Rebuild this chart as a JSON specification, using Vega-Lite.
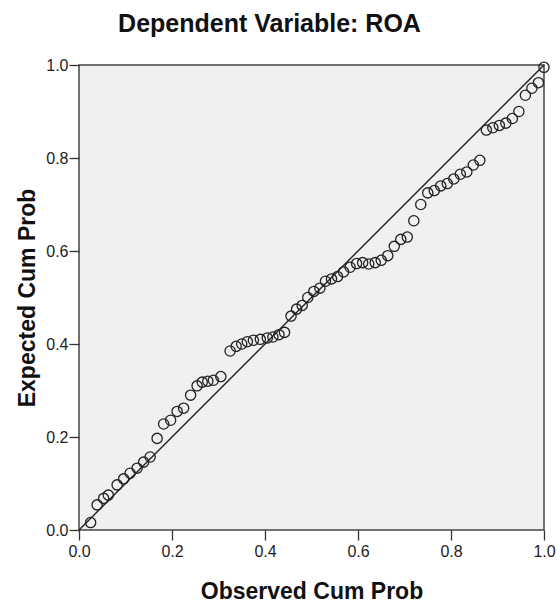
{
  "$schema": "https://vega.github.io/schema/vega-lite/v6.json",
  "width": 465,
  "height": 465,
  "autosize": {"type": "none"},
  "padding": {"left": 79, "top": 65, "right": 13, "bottom": 73},
  "background": "white",
  "title": {
    "text": "Dependent Variable: ROA",
    "font": "Liberation Sans",
    "fontSize": 25,
    "fontWeight": "bold",
    "color": "#111111",
    "anchor": "middle",
    "dx": -42,
    "baseline": "alphabetic",
    "offset": 0
  },
  "config": {
    "view": {"fill": "#f0f0f0", "stroke": "#444444", "strokeWidth": 1.5},
    "axis": {
      "labelFont": "Liberation Sans",
      "labelFontSize": 16,
      "labelColor": "#222222",
      "titleFont": "Liberation Sans",
      "titleFontSize": 23,
      "titleFontWeight": "bold",
      "titleColor": "#111111",
      "tickColor": "#333333",
      "tickSize": 10,
      "tickWidth": 1.3,
      "domain": false,
      "grid": false,
      "labelFlush": false,
      "labelOverlap": false
    }
  },
  "layer": [
    {
      "data": {"values": [{"x0": 0, "y0": 0, "x1": 1, "y1": 1}]},
      "mark": {"type": "rule", "color": "#222222", "strokeWidth": 1.4},
      "encoding": {
        "x": {"field": "x0", "type": "quantitative"},
        "y": {"field": "y0", "type": "quantitative"},
        "x2": {"field": "x1"},
        "y2": {"field": "y1"}
      }
    },
    {
      "data": {
        "values": [
          {"obs": 0.025, "exp": 0.016},
          {"obs": 0.039, "exp": 0.054},
          {"obs": 0.053, "exp": 0.068},
          {"obs": 0.063, "exp": 0.075},
          {"obs": 0.082, "exp": 0.097},
          {"obs": 0.096, "exp": 0.11},
          {"obs": 0.11, "exp": 0.122},
          {"obs": 0.125, "exp": 0.133},
          {"obs": 0.139, "exp": 0.146},
          {"obs": 0.153, "exp": 0.157},
          {"obs": 0.168, "exp": 0.197},
          {"obs": 0.182, "exp": 0.228},
          {"obs": 0.197, "exp": 0.236},
          {"obs": 0.211, "exp": 0.255},
          {"obs": 0.225, "exp": 0.262},
          {"obs": 0.24, "exp": 0.29},
          {"obs": 0.254, "exp": 0.31},
          {"obs": 0.265, "exp": 0.318},
          {"obs": 0.277, "exp": 0.32},
          {"obs": 0.289, "exp": 0.322},
          {"obs": 0.305, "exp": 0.33},
          {"obs": 0.325, "exp": 0.385},
          {"obs": 0.338, "exp": 0.395},
          {"obs": 0.35, "exp": 0.4},
          {"obs": 0.362, "exp": 0.405},
          {"obs": 0.375, "exp": 0.408},
          {"obs": 0.39, "exp": 0.41},
          {"obs": 0.405, "exp": 0.413},
          {"obs": 0.417, "exp": 0.415},
          {"obs": 0.43, "exp": 0.42},
          {"obs": 0.442, "exp": 0.425},
          {"obs": 0.456, "exp": 0.46},
          {"obs": 0.468, "exp": 0.475},
          {"obs": 0.48, "exp": 0.483},
          {"obs": 0.492, "exp": 0.5},
          {"obs": 0.505, "exp": 0.513},
          {"obs": 0.518, "exp": 0.52},
          {"obs": 0.53, "exp": 0.535},
          {"obs": 0.543, "exp": 0.54},
          {"obs": 0.556, "exp": 0.545},
          {"obs": 0.569, "exp": 0.555},
          {"obs": 0.583, "exp": 0.565},
          {"obs": 0.597, "exp": 0.573},
          {"obs": 0.61, "exp": 0.575},
          {"obs": 0.623, "exp": 0.572},
          {"obs": 0.637, "exp": 0.575},
          {"obs": 0.65, "exp": 0.58},
          {"obs": 0.664, "exp": 0.59},
          {"obs": 0.678, "exp": 0.61},
          {"obs": 0.692, "exp": 0.625},
          {"obs": 0.706, "exp": 0.63},
          {"obs": 0.72, "exp": 0.665},
          {"obs": 0.735, "exp": 0.7},
          {"obs": 0.75, "exp": 0.725},
          {"obs": 0.764, "exp": 0.73},
          {"obs": 0.778, "exp": 0.74},
          {"obs": 0.792, "exp": 0.745},
          {"obs": 0.806, "exp": 0.755},
          {"obs": 0.82, "exp": 0.765},
          {"obs": 0.834, "exp": 0.77},
          {"obs": 0.848, "exp": 0.785},
          {"obs": 0.862, "exp": 0.795},
          {"obs": 0.876, "exp": 0.86},
          {"obs": 0.89, "exp": 0.865},
          {"obs": 0.904, "exp": 0.87},
          {"obs": 0.918, "exp": 0.875},
          {"obs": 0.932, "exp": 0.885},
          {"obs": 0.946, "exp": 0.9},
          {"obs": 0.96, "exp": 0.935},
          {"obs": 0.974, "exp": 0.95},
          {"obs": 0.988, "exp": 0.962},
          {"obs": 1.0, "exp": 0.995}
        ]
      },
      "mark": {"type": "point", "shape": "circle", "filled": false, "stroke": "#222222", "strokeWidth": 1.3, "size": 105, "opacity": 1},
      "encoding": {
        "x": {
          "field": "obs",
          "type": "quantitative",
          "scale": {"domain": [0, 1], "nice": false, "zero": false},
          "axis": {"title": "Observed Cum Prob", "values": [0, 0.2, 0.4, 0.6, 0.8, 1.0], "format": ".1f", "labelPadding": 3, "titleY": 68, "titleBaseline": "alphabetic"}
        },
        "y": {
          "field": "exp",
          "type": "quantitative",
          "scale": {"domain": [0, 1], "nice": false, "zero": false},
          "axis": {"title": "Expected Cum Prob", "values": [0, 0.2, 0.4, 0.6, 0.8, 1.0], "format": ".1f", "labelPadding": 1, "titleX": -45, "titleBaseline": "alphabetic"}
        }
      }
    }
  ]
}
